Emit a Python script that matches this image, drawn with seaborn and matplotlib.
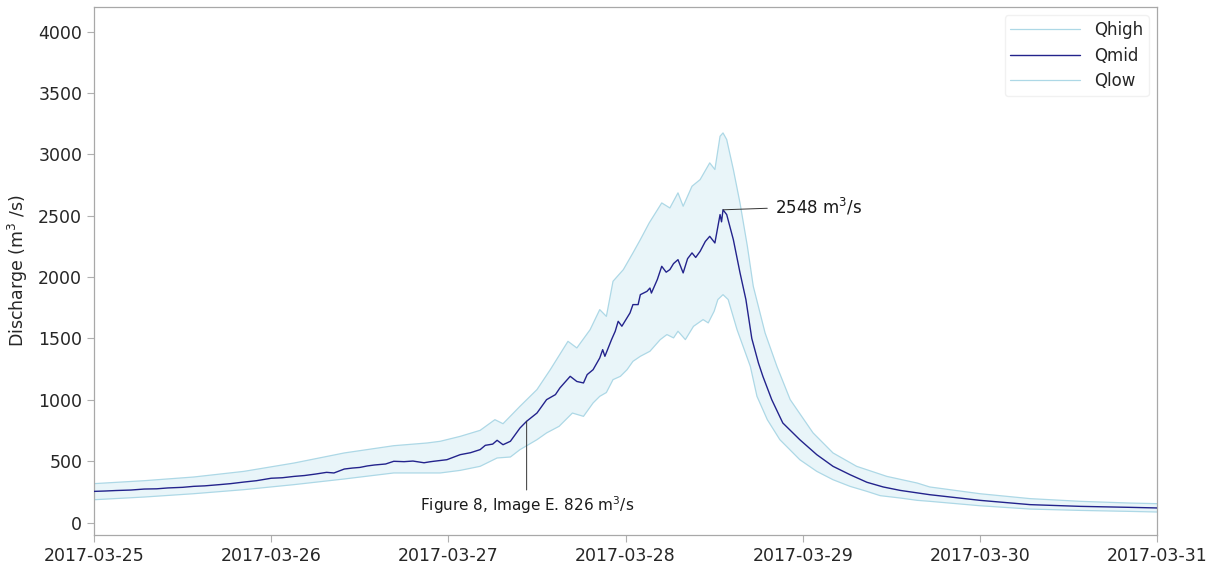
import numpy as np
import pandas as pd
import matplotlib
matplotlib.use("Agg")
import matplotlib.pyplot as plt
import matplotlib.dates as mdates
import seaborn as sns

# ---- data (hours since 2017-03-25 00:00, discharge m3/s) ----
mid_hours = [0, 1.5, 3, 5, 6.8, 8.5, 10, 12, 13.5, 15, 17, 18.5, 20.3, 22, 24, 25.5, 27.1, 28.5,
             30, 31.5, 32.5, 33.9, 35, 36, 37, 38, 39.5, 40.6, 42, 43.2, 44.7, 45.5,
             46, 47.8, 49.6, 51, 52.3, 53, 54, 54.6, 55.4, 56.4, 57.7, 58.6, 60, 61.3, 62.5, 63.1,
             64.5, 65.4, 66.3, 66.8, 67.6, 68.5, 68.9, 69.2, 70.1, 70.6, 71.0, 71.5, 72.6, 73.0,
             73.7, 74.0, 74.9, 75.3, 75.5, 76.3, 76.9, 77.5, 78, 78.5, 79.1, 79.8, 80.4, 81,
             81.5, 82.1, 82.8, 83.4, 84.1, 84.8, 85.0, 85.2, 85.7, 86.6, 87.5, 88.3, 89.1, 90.0,
             90.6, 91.8, 93.3, 95.6, 97.9, 100.1, 102.4, 104.7, 106.9, 109.2, 113.2, 120,
             126.8, 133.6, 140.3, 144]
mid_vals = [255, 258, 262, 266, 274, 276, 283, 288, 296, 300, 310, 318, 331, 342, 362, 366, 377, 384,
            396, 410, 405, 437, 445, 450, 462, 470, 478, 500, 497, 502, 488, 496,
            500, 513, 554, 570, 595, 630, 640, 671, 635, 663, 771, 826, 893, 1002, 1043, 1097,
            1192, 1150, 1138, 1206, 1246, 1341, 1409, 1355, 1491, 1559, 1640, 1600, 1708, 1776,
            1776, 1857, 1884, 1911, 1870, 1980, 2088, 2040, 2061, 2110, 2142, 2034, 2150, 2197,
            2160, 2210, 2290, 2332, 2278, 2509, 2450, 2548, 2509, 2305, 2036, 1817, 1500, 1300,
            1192, 1002, 812, 676, 554, 459, 391, 329, 291, 263, 228, 182,
            147, 133, 125, 120]

high_hours = [0, 6.8, 13.5, 20.3, 27.1, 33.9, 40.6, 45.1, 46.9, 49.6, 52.3, 54.3, 55.4, 57.7,
              60, 61.8, 64.2, 65.4, 67.2, 68.5, 69.4, 70.3, 71.7, 73, 74, 75.2, 76.9, 78.0,
              79.1, 79.8, 81.0, 82.1, 83.4, 84.1, 84.8, 85.2, 85.7, 86.6, 87.5, 88.5, 89.3,
              90.9, 92.5, 94.3, 97.4, 100.1, 103.3, 107.4, 111.5, 113.2, 120, 126.8, 133.6,
              140.3, 144]
high_vals = [318, 342, 372, 418, 486, 568, 627, 649, 663, 703, 752, 839, 806, 948,
             1084, 1246, 1477, 1423, 1572, 1735, 1680, 1966, 2061, 2197, 2305, 2441, 2604, 2563,
             2686, 2577, 2740, 2794, 2930, 2876, 3147, 3174, 3120, 2876, 2604, 2251, 1925,
             1545, 1273, 1002, 731, 568, 459, 377, 323, 291, 236, 196, 174,
             160, 155]

low_hours = [0, 6.8, 13.5, 20.3, 27.1, 33.9, 40.6, 45.1, 46.9, 49.6, 52.3, 54.6, 56.4, 57.7,
             60, 61.3, 63, 64.8, 66.3, 67.6, 68.5, 69.4, 70.3, 71.3, 72.2, 73, 74, 75.3, 76.7,
             77.6, 78.5, 79.1, 80.1, 81.2, 82.5, 83.2, 84.0, 84.5, 85.2, 85.9, 87.1, 88.9, 89.8,
             91.2, 92.9, 95.6, 97.9, 100.1, 102.4, 104.7, 106.5, 109.2, 111.5, 113.2, 120, 126.8,
             133.6, 140.3, 144]
low_vals = [187, 209, 236, 269, 310, 356, 405, 405, 405, 426, 459, 527, 535, 595,
            676, 731, 785, 893, 866, 975, 1029, 1060, 1165, 1192, 1246, 1314, 1355, 1396, 1491,
            1532, 1505, 1559, 1491, 1599, 1654, 1627, 1722, 1817, 1857, 1817, 1572, 1273, 1029,
            839, 676, 513, 418, 350, 296, 255, 220, 201, 182, 174, 138, 111,
            100, 92, 87]

series_names = ["Qhigh", "Qmid", "Qlow"]
peak_label = "2548 m$^3$/s"
image_label = "Figure 8, Image E. 826 m$^3$/s"
image_hour, image_val = 58.6, 826
peak_hour, peak_val = 85.2, 2548

start = pd.Timestamp("2017-03-25")
def to_time(h):
    return start + pd.to_timedelta(np.asarray(h, dtype=float), unit="h")

t_mid, t_high, t_low = to_time(mid_hours), to_time(high_hours), to_time(low_hours)

sns.set_style("ticks")
plt.rcParams["font.family"] = ["DejaVu Sans"]

fig = plt.figure(figsize=(12.18, 5.69), dpi=100)
ax = fig.add_axes([0.0772, 0.0598, 0.8728, 0.928])

fill_color = "#e9f5f9"
edge_color = "#add8e6"
mid_color = "#23238c"

# band between Qhigh and Qlow
xs = np.concatenate([mdates.date2num(t_high), mdates.date2num(t_low)[::-1]])
ys = np.concatenate([np.asarray(high_vals, float), np.asarray(low_vals, float)[::-1]])
ax.fill(xs, ys, color=fill_color, lw=0, zorder=1)

sns.lineplot(x=t_high, y=high_vals, ax=ax, color=edge_color, lw=0.9, label=series_names[0], zorder=2)
sns.lineplot(x=t_mid, y=mid_vals, ax=ax, color=mid_color, lw=1.0, label=series_names[1], zorder=3)
sns.lineplot(x=t_low, y=low_vals, ax=ax, color=edge_color, lw=0.9, label=series_names[2], zorder=2)

ax.set_xlim(start, start + pd.Timedelta(days=6))
ax.set_ylim(-100, 4200)
ax.set_yticks([0, 500, 1000, 1500, 2000, 2500, 3000, 3500, 4000])
ax.xaxis.set_major_locator(mdates.DayLocator())
ax.xaxis.set_major_formatter(mdates.DateFormatter("%Y-%m-%d"))
ax.set_ylabel("Discharge (m$^3$ /s)", fontsize=12.5, color="#262626", labelpad=6)
ax.set_xlabel("")
ax.tick_params(axis="both", labelsize=12.5, colors="#262626", length=5, width=0.8)
ax.tick_params(axis="both", color="#b0b0b0")
for s in ax.spines.values():
    s.set_visible(True)
    s.set_color("#a8a8a8")
    s.set_linewidth(0.9)

ax.annotate(peak_label, xy=(to_time([peak_hour])[0], peak_val),
            xytext=(to_time([92.2])[0], 2575), fontsize=12, ha="left", va="center",
            color="#1a1a1a",
            arrowprops=dict(arrowstyle="-", color="#333333", lw=0.7, shrinkA=3, shrinkB=0))
ax.annotate(image_label, xy=(to_time([image_hour])[0], image_val),
            xytext=(to_time([image_hour])[0], 140), fontsize=11, ha="center", va="center",
            color="#1a1a1a",
            arrowprops=dict(arrowstyle="-", color="#333333", lw=0.7, shrinkA=1, shrinkB=0))

leg = ax.legend(loc="upper right", fontsize=12, frameon=True, handlelength=4.2,
                markerfirst=True, borderpad=0.35, labelspacing=0.45)
leg.get_frame().set_edgecolor("#eeeeee")
leg.get_frame().set_facecolor("white")

fig.savefig("out.png", dpi=100)
